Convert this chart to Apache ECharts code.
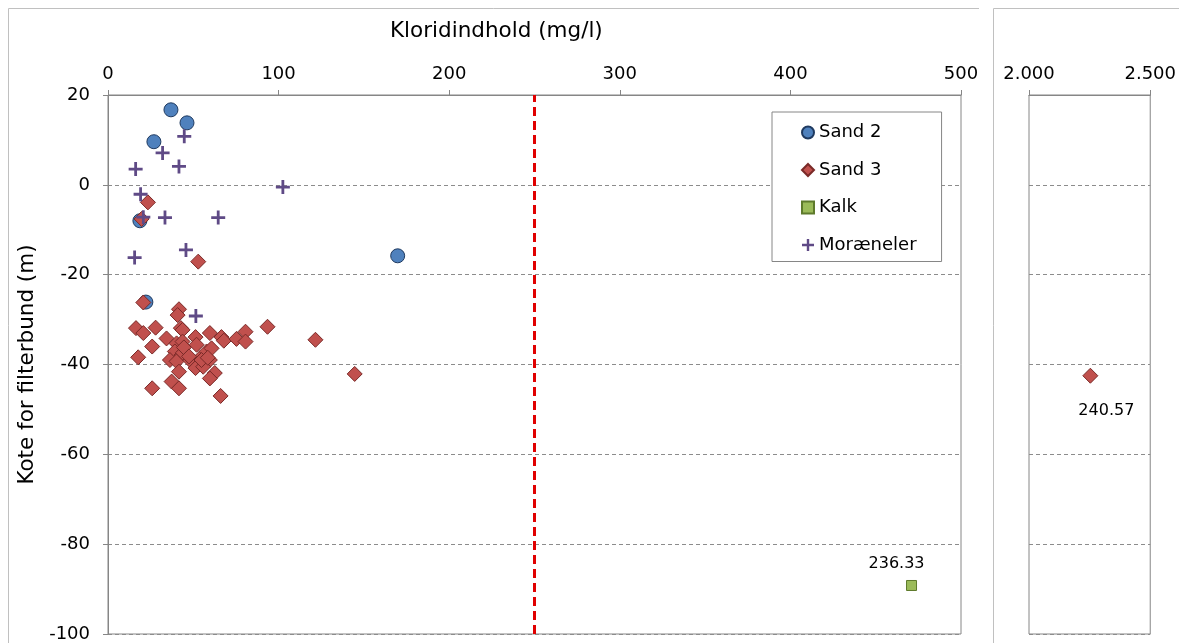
<!DOCTYPE html>
<html><head><meta charset="utf-8">
<script src="https://cdn.jsdelivr.net/npm/echarts@6/dist/echarts.min.js"></script>
<style>html,body{margin:0;padding:0;background:#fff}#c{width:1179px;height:643px}</style>
</head><body><div id="c"></div>
<script>
const xTitle = 'Kloridindhold (mg/l)';
const yTitle = 'Kote for filterbund (m)';
const seriesNames = ['Sand 2', 'Sand 3', 'Kalk', 'Moræneler'];
const sand2 = [[36.9,16.7],[46.3,13.8],[26.9,9.6],[18.7,-8.0],[169.8,-15.8],[22.2,-26.1]];
const sand3 = [[23.4,-3.9],[19.7,-7.6],[52.9,-17.1],[20.7,-26.2],[41.6,-27.7],[40.8,-29],[16.4,-31.9],[20.7,-33],[27.9,-31.8],[42.7,-31.9],[43.7,-32.3],[34.3,-34.2],[25.9,-36],[17.7,-38.4],[40.2,-35.3],[43.7,-34.9],[51.3,-33.9],[51.9,-35.6],[59.7,-33],[66.5,-33.9],[67.9,-34.7],[75.3,-34.3],[80.6,-32.7],[80.6,-34.9],[93.5,-31.6],[121.6,-34.5],[144.6,-42.1],[39.2,-37.1],[43.1,-37.9],[36.3,-39],[40.2,-39.3],[48,-39],[53.9,-38.6],[59.7,-39],[57.8,-37.1],[60.7,-36.4],[51.3,-40.8],[55.8,-40.5],[62.6,-41.9],[59.7,-43.1],[41.6,-41.6],[37.3,-43.8],[41.6,-45.3],[25.9,-45.3],[66,-47],[43.9,-37.4],[54.8,-39],[58.5,-38.5],[44.5,-36.2],[47.5,-38.2]];
const sand3Right = [[2253,-42.5]];
const sand3RightLabels = ['240.57'];
const kalk = [[471,-89.2]];
const kalkLabels = ['236.33'];
const moraeneler = [[44.7,10.8],[32.0,7.1],[16.2,3.5],[41.6,4.1],[19.1,-2.1],[102.5,-0.5],[20.7,-7.2],[33.4,-7.3],[64.6,-7.3],[45.7,-14.5],[15.6,-16.2],[51.5,-29.2]];
const limitValue = 250;

const FONT = 'DejaVu Sans';
const plus = 'path://M4,0H6V4H10V6H6V10H4V6H0V4H4Z';
const axisGray = '#868686';
const gridLine = {show:true, lineStyle:{color:'#8c8c8c', type:[4,3], width:1}};

const chart = echarts.init(document.getElementById('c'));
chart.setOption({
  animation:false,
  textStyle:{fontFamily:FONT},
  title:[
    {text:xTitle, left:390, top:20, textStyle:{fontSize:21.5, fontWeight:'normal', color:'#000', fontFamily:FONT}, padding:0}
  ],
  graphic:[
    {type:'polyline', shape:{points:[[8.5,643],[8.5,8.5],[979,8.5]]}, style:{stroke:'#c0c0c0', fill:null, lineWidth:1}},
    {type:'polyline', shape:{points:[[993.5,643],[993.5,8.5],[1179,8.5]]}, style:{stroke:'#c0c0c0', fill:null, lineWidth:1}}
  ],
  legend:{
    orient:'vertical', left:772, top:112,
    padding:[11.5,25,7.5,29], itemGap:19.5, itemWidth:12, itemHeight:12,
    borderColor:'#868686', borderWidth:1, backgroundColor:'#fff',
    textStyle:{fontSize:18, color:'#000', fontFamily:FONT, lineHeight:18},
    data:seriesNames
  },
  grid:[
    {left:108, top:95, width:853, height:539, show:true, borderColor:axisGray, borderWidth:1, backgroundColor:'#fff'},
    {left:1029, top:95, width:127, height:539, show:true, borderColor:axisGray, borderWidth:1, backgroundColor:'#fff'}
  ],
  xAxis:[
    {gridIndex:0, type:'value', position:'top', min:0, max:500, interval:100,
     axisLine:{show:true, onZero:false, lineStyle:{color:axisGray}}, axisTick:{show:true, length:5, lineStyle:{color:axisGray}},
     axisLabel:{fontSize:18, color:'#000', margin:12}, splitLine:{show:false}},
    {gridIndex:1, type:'value', position:'top', min:2000, max:2500, interval:500,
     axisLine:{show:true, onZero:false, lineStyle:{color:axisGray}}, axisTick:{show:true, length:5, lineStyle:{color:axisGray}},
     axisLabel:{fontSize:18, color:'#000', margin:12, formatter:v=>String(v).replace(/\B(?=(\d{3})+(?!\d))/g,'.')},
     splitLine:{show:false}}
  ],
  yAxis:[
    {gridIndex:0, type:'value', min:-100, max:20, interval:20,
     name:yTitle, nameLocation:'middle', nameGap:59, nameRotate:90, nameTextStyle:{fontSize:21.5, color:'#000'},
     axisLine:{show:true, onZero:false, lineStyle:{color:axisGray}}, axisTick:{show:true, length:5, lineStyle:{color:axisGray}},
     axisLabel:{fontSize:18, color:'#000', margin:18}, splitLine:gridLine},
    {gridIndex:1, type:'value', min:-100, max:20, interval:20,
     axisLine:{show:false}, axisTick:{show:false}, axisLabel:{show:false}, splitLine:gridLine}
  ],
  series:[
    {name:'Sand 2', type:'scatter', xAxisIndex:0, yAxisIndex:0, data:sand2, symbol:'circle', symbolSize:14,
     itemStyle:{color:'#4f81bd', borderColor:'#1f3a60', borderWidth:1, opacity:1},
     markLine:{silent:true, symbol:'none', label:{show:false}, animation:false,
       lineStyle:{color:'#e00000', width:3, type:[9,5]}, data:[{xAxis:limitValue}]}},
    {name:'Sand 3', type:'scatter', xAxisIndex:0, yAxisIndex:0, data:sand3, symbol:'diamond', symbolSize:15,
     itemStyle:{color:'#c0504d', borderColor:'#7a2a28', borderWidth:1, opacity:1}},
    {name:'Sand 3', type:'scatter', xAxisIndex:1, yAxisIndex:1, data:sand3Right, symbol:'diamond', symbolSize:15,
     itemStyle:{color:'#c0504d', borderColor:'#7a2a28', borderWidth:1, opacity:1},
     label:{show:true, formatter:p=>sand3RightLabels[p.dataIndex], position:'bottom', offset:[16,14], fontSize:16, color:'#000'}},
    {name:'Kalk', type:'scatter', xAxisIndex:0, yAxisIndex:0, data:kalk, symbol:'rect', symbolSize:10,
     itemStyle:{color:'#9bbb59', borderColor:'#5e7a2c', borderWidth:1, opacity:1},
     label:{show:true, formatter:p=>kalkLabels[p.dataIndex], position:'top', offset:[-15,-3], fontSize:16, color:'#000'}},
    {name:'Moræneler', type:'scatter', xAxisIndex:0, yAxisIndex:0, data:moraeneler, symbol:plus, symbolSize:14,
     itemStyle:{color:'#5f4a86', opacity:1}}
  ]
});
</script></body></html>
